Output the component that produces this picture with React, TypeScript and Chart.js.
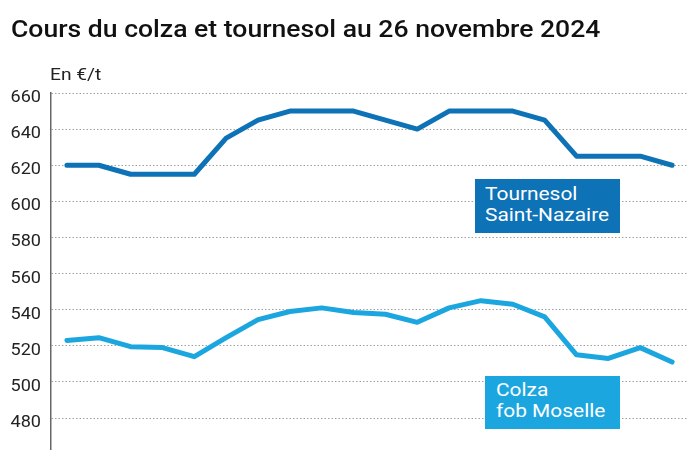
import React, { useEffect, useRef } from "react";
import { Chart, registerables } from "chart.js";

Chart.register(...registerables);

const categories = [
  "1", "2", "3", "4", "5", "6", "7", "8", "9", "10",
  "11", "12", "13", "14", "15", "16", "17", "18", "19", "20",
];
const tournesol = [620, 620, 615, 615, 615, 635, 645, 650, 650, 650, 645, 640, 650, 650, 650, 645, 625, 625, 625, 620];
const colza = [523, 524.5, 519.5, 519, 514, 524.5, 534.5, 539, 541, 538.5, 537.5, 533, 541, 545, 543, 536, 515, 513, 519, 511];
const yTicks = [480, 500, 520, 540, 560, 580, 600, 620, 640, 660];

const DARK = "#0e72b6";
const LIGHT = "#1ba6df";
const FONT = "Roboto, 'Liberation Sans', sans-serif";
const STRETCH = 1.13;

const tickLabelPlugin = {
  id: "stretchedTicks",
  afterDraw: (c: any) => {
    const scale = c.scales.y;
    const ctx = c.ctx;
    ctx.save();
    ctx.fillStyle = "#222";
    ctx.font = `16px ${FONT}`;
    ctx.textAlign = "right";
    ctx.textBaseline = "middle";
    for (const t of scale.ticks) {
      const y = scale.getPixelForValue(t.value) + 5;
      ctx.save();
      ctx.translate(41, y);
      ctx.scale(STRETCH, 1);
      ctx.fillText(String(t.value), 0, 0);
      ctx.restore();
    }
    ctx.restore();
  },
};

export default function App() {
  const ref = useRef<HTMLCanvasElement | null>(null);

  useEffect(() => {
    document.body.style.margin = "0";
    const canvas = ref.current;
    if (!canvas) return;
    const chart = new Chart(canvas, {
      type: "line",
      data: {
        labels: categories,
        datasets: [
          {
            label: "Tournesol Saint-Nazaire",
            data: tournesol,
            borderColor: DARK,
            borderWidth: 5,
            pointRadius: 0,
            tension: 0,
            borderCapStyle: "round",
            borderJoinStyle: "round",
          },
          {
            label: "Colza fob Moselle",
            data: colza,
            borderColor: LIGHT,
            borderWidth: 5,
            pointRadius: 0,
            tension: 0,
            borderCapStyle: "round",
            borderJoinStyle: "round",
          },
        ],
      },
      options: {
        animation: false,
        responsive: false,
        maintainAspectRatio: false,
        layout: { padding: { top: 93, right: 12, bottom: 0, left: 0 } },
        plugins: { legend: { display: false }, tooltip: { enabled: false } },
        scales: {
          x: {
            type: "category",
            offset: true,
            display: false,
          },
          y: {
            min: 462.3,
            max: 660,
            afterBuildTicks: (scale: any) => {
              scale.ticks = yTicks.map((v) => ({ value: v }));
            },
            afterFit: (scale: any) => {
              scale.width = 51;
            },
            ticks: { display: false },
            grid: {
              color: "#a0a0a0",
              lineWidth: 1,
              drawTicks: false,
            },
            border: { display: true, color: "#666", width: 1.5, dash: [1.5, 2] },
          },
        },
      },
      plugins: [tickLabelPlugin],
    });
    return () => chart.destroy();
  }, []);

  const stretch = { transform: `scaleX(${STRETCH})`, transformOrigin: "left top" } as const;

  return (
    <div style={{ position: "relative", width: 700, height: 450, background: "#fff", fontFamily: FONT, overflow: "hidden" }}>
      <canvas ref={ref} width={700} height={450} style={{ position: "absolute", left: 0, top: 0 }} />
      <div style={{ position: "absolute", left: 11, top: 15, fontSize: 23.5, fontWeight: 500, color: "#111", whiteSpace: "nowrap", ...stretch }}>
        Cours du colza et tournesol au 26 novembre 2024
      </div>
      <div style={{ position: "absolute", left: 50, top: 64, fontSize: 17, color: "#222", whiteSpace: "nowrap", ...stretch }}>En €/t</div>
      <div style={{ position: "absolute", left: 475, top: 179, width: 145, height: 54, background: DARK }}>
        <div style={{ position: "absolute", left: 10, top: 5, color: "#fff", fontSize: 18.5, lineHeight: "21px", whiteSpace: "nowrap", ...stretch }}>
          Tournesol<br />Saint-Nazaire
        </div>
      </div>
      <div style={{ position: "absolute", left: 485, top: 376, width: 135, height: 53, background: LIGHT }}>
        <div style={{ position: "absolute", left: 11, top: 4, color: "#fff", fontSize: 18.5, lineHeight: "21px", whiteSpace: "nowrap", ...stretch }}>
          Colza<br />fob Moselle
        </div>
      </div>
    </div>
  );
}
